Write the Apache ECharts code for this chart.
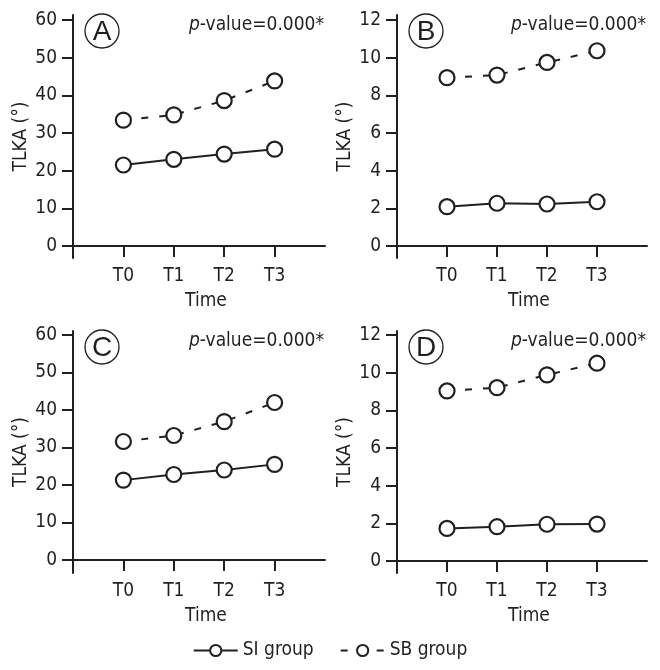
<!DOCTYPE html>
<html>
<head>
<meta charset="utf-8">
<script src="https://cdn.jsdelivr.net/npm/echarts@6/dist/echarts.min.js"></script>
<style>html,body{margin:0;padding:0;background:#fff;}#c{width:660px;height:670px;}</style>
</head>
<body>
<div id="c"></div>
<script>
const categories = ['T0', 'T1', 'T2', 'T3'];
const panelLetters = ['A', 'B', 'C', 'D'];
const pValueText = 'p-value=0.000*';
const seriesNames = ['SI group', 'SB group'];
const ticksLarge = [0, 10, 20, 30, 40, 50, 60];
const ticksSmall = [0, 2, 4, 6, 8, 10, 12];

const siA = [21.5, 23.0, 24.4, 25.7];
const sbA = [33.4, 34.8, 38.6, 43.8];
const siB = [2.09, 2.27, 2.23, 2.35];
const sbB = [8.94, 9.08, 9.75, 10.37];
const siC = [21.3, 22.8, 24.0, 25.5];
const sbC = [31.6, 33.2, 36.9, 42.0];
const siD = [1.73, 1.82, 1.95, 1.96];
const sbD = [9.03, 9.20, 9.88, 10.50];

const FONT = "'Liberation Sans Narrow', 'DejaVu Sans Condensed', 'Roboto', sans-serif";
const INK = '#231f20';

const panels = [
  { si: siA, sb: sbA, ticks: ticksLarge, min: -3.18, max: 61.3, grid: { left: 73, top: 15, width: 252, height: 243 } },
  { si: siB, sb: sbB, ticks: ticksSmall, min: -0.637, max: 12.27, grid: { left: 397, top: 15, width: 250, height: 243 } },
  { si: siC, sb: sbC, ticks: ticksLarge, min: -3.47, max: 61.07, grid: { left: 73, top: 331, width: 252, height: 242 } },
  { si: siD, sb: sbD, ticks: ticksSmall, min: -0.637, max: 12.21, grid: { left: 397, top: 331, width: 250, height: 242 } }
];

const toPoints = arr => arr.map((v, i) => [i + 1, v]);
const catValues = categories.map((c, i) => i + 1);

const grids = [], xAxes = [], yAxes = [], series = [], graphics = [];
panels.forEach((p, k) => {
  grids.push(Object.assign({ containLabel: false }, p.grid));
  xAxes.push({
    type: 'value', gridIndex: k, min: 0, max: 5,
    name: 'Time', nameLocation: 'middle', nameGap: 34,
    nameTextStyle: { fontFamily: FONT, fontSize: 19, color: INK, padding: [0, 0, 0, 14] },
    axisLine: { show: true, onZero: true, lineStyle: { color: INK, width: 2 } },
    axisTick: { show: true, length: 11, customValues: catValues, lineStyle: { color: INK, width: 2 } },
    axisLabel: { show: true, margin: 9, customValues: catValues, fontFamily: FONT, fontSize: 19, color: INK,
      formatter: v => categories[Math.round(v) - 1] || '' },
    splitLine: { show: false }
  });
  yAxes.push({
    type: 'value', gridIndex: k, min: p.min, max: p.max,
    name: 'TLKA (°)', nameLocation: 'middle', nameGap: 42,
    nameTextStyle: { fontFamily: FONT, fontSize: 19, color: INK },
    axisLine: { show: true, onZero: false, lineStyle: { color: INK, width: 2 } },
    axisTick: { show: true, length: 11, customValues: p.ticks, lineStyle: { color: INK, width: 2 } },
    axisLabel: { show: true, margin: 16, customValues: p.ticks, fontFamily: FONT, fontSize: 19, color: INK },
    splitLine: { show: false }
  });
  series.push({
    name: seriesNames[0], type: 'line', xAxisIndex: k, yAxisIndex: k,
    data: toPoints(p.si), symbol: 'circle', symbolSize: 15,
    itemStyle: { color: '#fff', borderColor: INK, borderWidth: 2.2 },
    lineStyle: { color: INK, width: 2, type: 'solid' }, z: 3
  });
  series.push({
    name: seriesNames[1], type: 'line', xAxisIndex: k, yAxisIndex: k,
    data: toPoints(p.sb), symbol: 'circle', symbolSize: 15,
    itemStyle: { color: '#fff', borderColor: INK, borderWidth: 2.2 },
    lineStyle: { color: INK, width: 2, type: [7, 11] }, z: 3
  });
  const gx = p.grid.left, gy = p.grid.top;
  graphics.push({
    type: 'circle', shape: { cx: gx + 29, cy: gy + 16, r: 17 },
    style: { fill: '#fff', stroke: INK, lineWidth: 1.3 }, z: 10
  });
  graphics.push({
    type: 'text', x: gx + 29, y: gy + 17,
    style: { text: panelLetters[k], fill: INK, font: "28px 'Liberation Sans', Arial, sans-serif", textAlign: 'center', textVerticalAlign: 'middle' }, z: 11
  });
  graphics.push({
    type: 'text', x: gx + p.grid.width - 1, y: gy + 10,
    style: {
      text: '{i|p}' + pValueText.slice(1), textAlign: 'right', textVerticalAlign: 'middle',
      fill: INK, font: "19px " + FONT,
      rich: { i: { fontStyle: 'italic', fontFamily: FONT, fontSize: 19, fill: INK } }
    }, z: 11
  });
});

const chart = echarts.init(document.getElementById('c'), null, { renderer: 'canvas' });
chart.setOption({
  animation: false,
  backgroundColor: '#fff',
  grid: grids, xAxis: xAxes, yAxis: yAxes, series: series,
  legend: {
    data: seriesNames, top: 636, left: 'center', itemWidth: 44, itemHeight: 14, itemGap: 26,
    textStyle: { fontFamily: FONT, fontSize: 19, color: INK }
  },
  graphic: graphics
});
</script>
</body>
</html>
